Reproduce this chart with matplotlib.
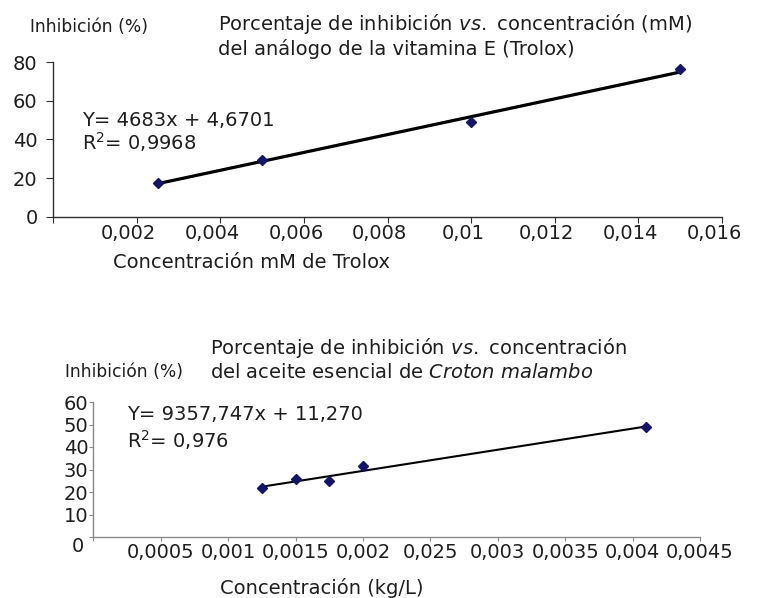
import numpy as np
import matplotlib.pyplot as plt
from matplotlib.transforms import ScaledTranslation

W, H = 757, 598

# Trolox (top panel)
trolox_conc = [0.0025, 0.005, 0.01, 0.015]
trolox_inhib = [17.4, 29.5, 49.1, 76.2]
trolox_xticks = [0.002, 0.004, 0.006, 0.008, 0.01, 0.012, 0.014, 0.016]
trolox_xlabels = ['0,002', '0,004', '0,006', '0,008', '0,01', '0,012', '0,014', '0,016']
trolox_yticks = [0, 20, 40, 60, 80]
trolox_eq = ['Y= 4683x + 4,6701', r'R$^{\mathregular{2}}$= 0,9968']

# Croton malambo (bottom panel)
croton_conc = [0.00125, 0.0015, 0.00175, 0.002, 0.0041]
croton_inhib = [21.7, 25.9, 24.7, 31.4, 48.9]
croton_xticks = [0.0005, 0.001, 0.0015, 0.002, 0.0025, 0.003, 0.0035, 0.004, 0.0045]
croton_xlabels = ['0,0005', '0,001', '0,0015', '0,002', '0,025', '0,003', '0,0035', '0,004', '0,0045']
croton_yticks = [0, 10, 20, 30, 40, 50, 60]
croton_ylabels = ['', '10', '20', '30', '40', '50', '60']
croton_eq = ['Y= 9357,747x + 11,270', r'R$^{\mathregular{2}}$= 0,976']

TXT = '#1e1e1e'
MARK = '#14146a'
FS = 14
TFS = 14
LFS = 12.3


def px(x, y):
    """ pixel -> figure fraction """
    return x / W, 1 - y / H


def box(x0, y0, x1, y1):
    return [x0 / W, 1 - y1 / H, (x1 - x0) / W, (y1 - y0) / H]


def trend(ax, x, y, lw):
    coef = np.polyfit(x, y, 1)
    xs = np.array([min(x), max(x)])
    ax.plot(xs, np.polyval(coef, xs), color='black', lw=lw, zorder=2)
    ax.plot(x, y, linestyle='none', marker='D', ms=5, color=MARK, zorder=3)


plt.rcParams['font.family'] = 'DejaVu Sans'
fig = plt.figure(figsize=(W / 100, H / 100), dpi=100)

# ---- top panel ----
ax1 = fig.add_axes(box(53, 62, 722, 216.7))
trend(ax1, trolox_conc, trolox_inhib, 2.3)
ax1.set_xlim(0, 0.016)
ax1.set_ylim(0, 80)
ax1.set_xticks([0] + trolox_xticks)
ax1.set_xticklabels([''] + trolox_xlabels)
ax1.set_yticks(trolox_yticks)
ax1.set_yticklabels([str(v) for v in trolox_yticks])
for s in ['top', 'right']:
    ax1.spines[s].set_visible(False)
for s in ['left', 'bottom']:
    ax1.spines[s].set_color('#303030')
    ax1.spines[s].set_linewidth(1.0)
ax1.tick_params(axis='x', direction='out', length=4, width=0.8, pad=1,
                labelsize=TFS, colors='#303030', labelcolor=TXT)
ax1.tick_params(axis='y', direction='out', length=5, width=0.8, pad=6,
                labelsize=TFS, colors='#303030', labelcolor=TXT)
shift = ScaledTranslation(-0.08, 0, fig.dpi_scale_trans)
for lbl in ax1.get_xticklabels():
    lbl.set_transform(lbl.get_transform() + shift)

fig.text(*px(30, 27), 'Inhibición (%)', fontsize=LFS, color=TXT,
         ha='left', va='center')
fig.text(*px(218, 24), r'Porcentaje de inhibición $\mathit{vs.}$ concentración (mM)',
         fontsize=FS, color=TXT, ha='left', va='center')
fig.text(*px(218, 49), 'del análogo de la vitamina E (Trolox)',
         fontsize=FS, color=TXT, ha='left', va='center')
fig.text(*px(82, 120), trolox_eq[0], fontsize=FS, color=TXT, ha='left', va='center')
fig.text(*px(82, 142), trolox_eq[1], fontsize=FS, color=TXT, ha='left', va='center')
fig.text(*px(113, 263), 'Concentración mM de Trolox', fontsize=FS, color=TXT,
         ha='left', va='center')

# ---- bottom panel ----
ax2 = fig.add_axes(box(93.3, 402, 700, 537))
trend(ax2, croton_conc, croton_inhib, 1.5)
ax2.set_xlim(0, 0.0045)
ax2.set_ylim(0, 60)
ax2.set_xticks([0] + croton_xticks)
ax2.set_xticklabels([''] + croton_xlabels)
ax2.set_yticks(croton_yticks)
ax2.set_yticklabels(croton_ylabels)
for s in ['top', 'right']:
    ax2.spines[s].set_visible(False)
for s in ['left', 'bottom']:
    ax2.spines[s].set_color('#8a8a8a')
    ax2.spines[s].set_linewidth(1.0)
ax2.tick_params(axis='x', direction='out', length=3, width=0.8, pad=1.5,
                labelsize=TFS, colors='#8a8a8a', labelcolor=TXT)
ax2.tick_params(axis='y', direction='out', length=3, width=0.8, pad=0.5,
                labelsize=TFS, colors='#8a8a8a', labelcolor=TXT)
fig.text(*px(78, 547), '0', fontsize=TFS, color=TXT, ha='center', va='center')

fig.text(*px(65, 372), 'Inhibición (%)', fontsize=LFS, color=TXT,
         ha='left', va='center')
fig.text(*px(210, 348), r'Porcentaje de inhibición $\mathit{vs.}$ concentración',
         fontsize=FS, color=TXT, ha='left', va='center')
fig.text(*px(210, 373), r'del aceite esencial de $\mathit{Croton\ malambo}$',
         fontsize=FS, color=TXT, ha='left', va='center')
fig.text(*px(127, 415), croton_eq[0], fontsize=FS, color=TXT, ha='left', va='center')
fig.text(*px(127, 440), croton_eq[1], fontsize=FS, color=TXT, ha='left', va='center')
fig.text(*px(220, 588), 'Concentración (kg/L)', fontsize=FS, color=TXT,
         ha='left', va='center')

fig.savefig('out.png', dpi=100)
